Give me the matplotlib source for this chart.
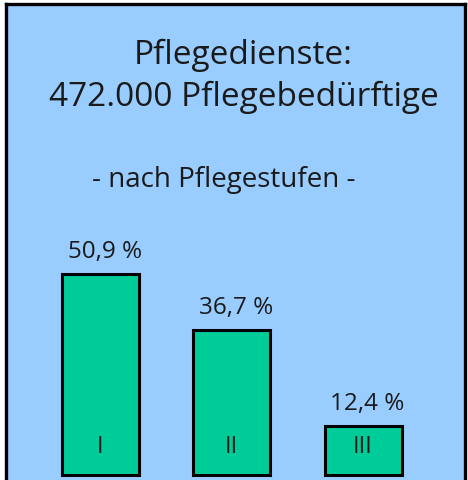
import matplotlib
matplotlib.use("Agg")
import matplotlib.pyplot as plt

categories = ["I", "II", "III"]
values = [50.9, 36.7, 12.4]
value_labels = ["50,9 %", "36,7 %", "12,4 %"]
title_lines = ["Pflegedienste:", "472.000 Pflegebedürftige"]
subtitle = "- nach Pflegestufen -"

W, H = 468, 481
fig = plt.figure(figsize=(W / 100, H / 100), dpi=100)
fig.patch.set_facecolor("white")
plt.rcParams["font.family"] = ["Open Sans", "DejaVu Sans"]

# axes spanning the framed area (pixel coords)
ax_l, ax_r, ax_t, ax_b = 6, 465, 5, 481
ax = fig.add_axes([ax_l / W, (H - ax_b) / H, (ax_r - ax_l) / W, (ax_b - ax_t) / H])
ax.set_facecolor("#99CCFF")
for s in ["left", "right", "top"]:
    ax.spines[s].set_linewidth(2.4)
    ax.spines[s].set_color("black")
ax.spines["bottom"].set_visible(False)

x = list(range(len(categories)))
ax.bar(x, values, width=0.587, color="#00CC99", edgecolor="black", linewidth=2.2)
ax.set_xlim(-0.72, 2.776)
ax.set_ylim(-1.27, 119.3)
ax.set_xticks([])
ax.set_yticks([])

for xi, v, lab, cat in zip(x, values, value_labels, categories):
    ax.annotate(lab, (xi, v), xytext=(3, 8), textcoords="offset points",
                ha="center", va="bottom", fontsize=17.5, color="#1a1a1a")
    ax.annotate(cat, (xi, 0), xytext=(0, 21), textcoords="offset points",
                ha="center", va="center", fontsize=17, color="#1a1a1a")

fig.text(243 / W, 1 - 55 / H, title_lines[0], ha="center", va="center",
         fontsize=24, color="#1a1a1a")
fig.text(244 / W, 1 - 97 / H, title_lines[1], ha="center", va="center",
         fontsize=24, color="#1a1a1a")
fig.text(224 / W, 1 - 180 / H, subtitle, ha="center", va="center",
         fontsize=20, color="#1a1a1a")

fig.savefig("out.png", dpi=100, facecolor=fig.get_facecolor())
